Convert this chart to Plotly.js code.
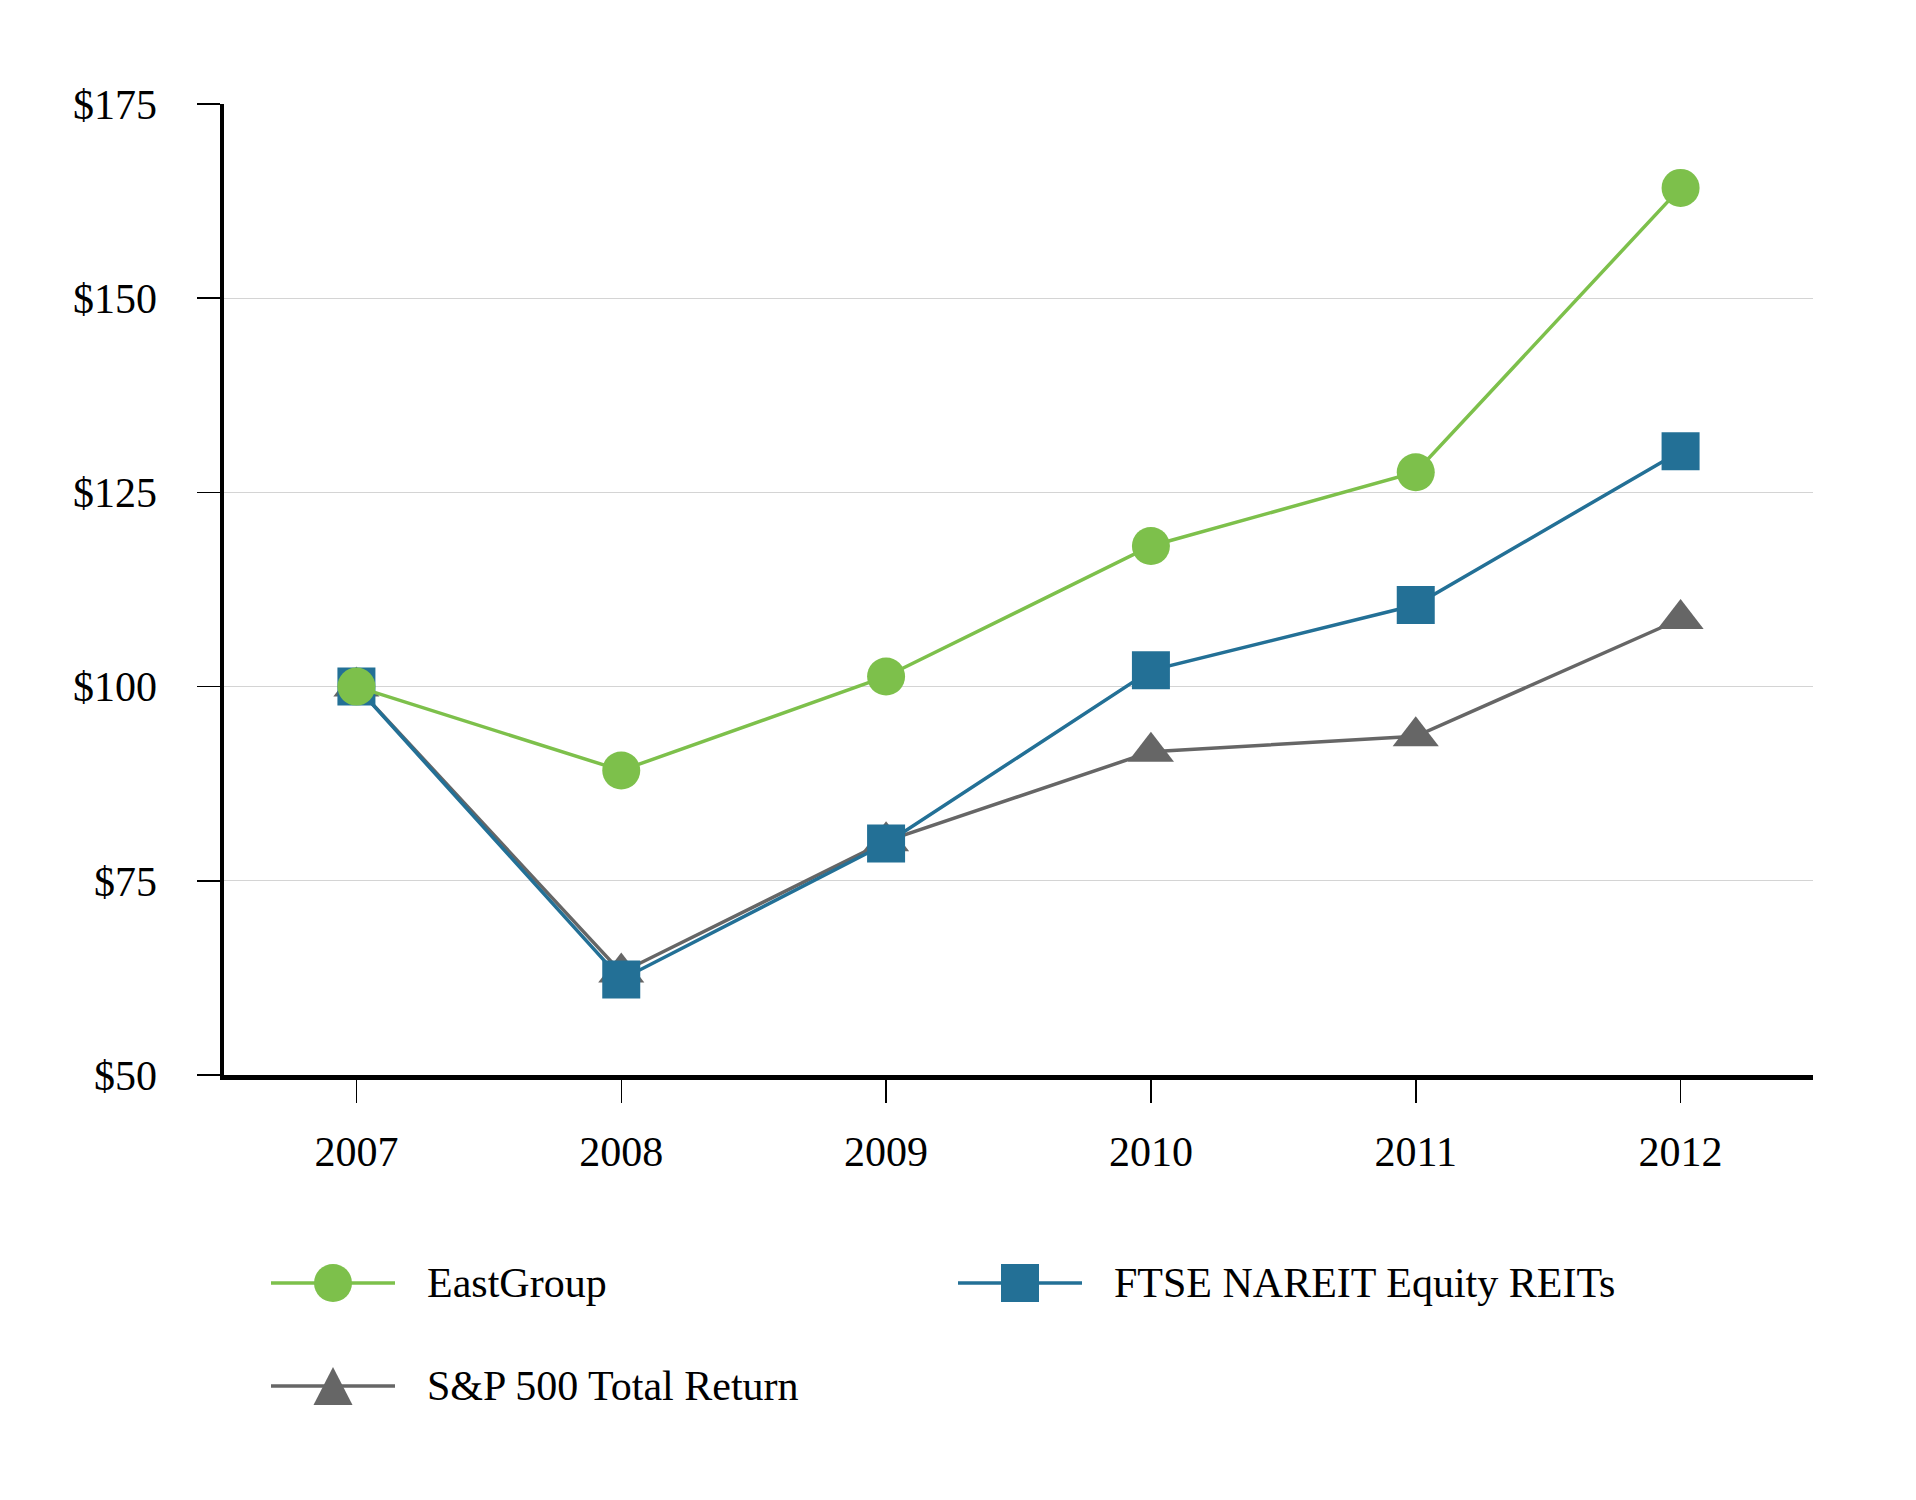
<!DOCTYPE html>
<html>
<head>
<meta charset="utf-8">
<script src="https://cdn.plot.ly/plotly-3.0.1.min.js"></script>
<style>
  body { margin: 0; background: #fff; }
  #chart { width: 1916px; height: 1500px; }
</style>
</head>
<body>
<div id="chart"></div>
<script>
var years = ['2007', '2008', '2009', '2010', '2011', '2012'];
var eastGroup = [100, 89.2, 101.3, 118.1, 127.6, 164.2];
var nareit = [100, 62.3, 79.8, 102.1, 110.5, 130.3];
var sp500 = [100, 63.2, 80.1, 91.6, 93.6, 108.7];
var yTicks = [50, 75, 100, 125, 150, 175];
var yTickText = ['&#36;50', '&#36;75', '&#36;100', '&#36;125', '&#36;150', '&#36;175'];

var seriesNames = ['EastGroup', 'FTSE NAREIT Equity REITs', 'S&P 500 Total Return'];
var seriesColors = ['#7dc04b', '#237096', '#666666'];
var seriesSymbols = ['circle', 'square', 'triangle-up'];

var font = 'Liberation Serif, Times New Roman, serif';

function trace(i, vals, size) {
  return {
    x: years,
    y: vals,
    name: seriesNames[i],
    type: 'scatter',
    mode: 'lines+markers',
    line: { color: seriesColors[i], width: 3.5 },
    marker: { color: seriesColors[i], symbol: seriesSymbols[i], size: size },
    showlegend: false,
    hoverinfo: 'x+y+name'
  };
}

// drawn gray first so blue and green sit on top
var data = [trace(2, sp500, 40), trace(1, nareit, 38), trace(0, eastGroup, 38)];

// hand made legend, two columns like the original
var plotLeft = 224, plotRight = 1813, plotTop = 104, plotBottom = 1075;
function px(x) { return (x - plotLeft) / (plotRight - plotLeft); }
function py(y) { return (plotBottom - y) / (plotBottom - plotTop); }

var legendSpots = [[333, 1283], [1020, 1283], [333, 1386]];
var shapes = [];
var annotations = [];
legendSpots.forEach(function (p, i) {
  var ax = px(p[0]), ay = py(p[1]);
  var base = { xref: 'paper', yref: 'paper', xsizemode: 'pixel', ysizemode: 'pixel', xanchor: ax, yanchor: ay };
  shapes.push(Object.assign({}, base, {
    type: 'line', x0: -62, x1: 62, y0: 0, y1: 0,
    line: { color: seriesColors[i], width: 3.5 }
  }));
  annotations.push({
    xref: 'paper', yref: 'paper', x: ax, y: ay, xshift: 92,
    xanchor: 'left', yanchor: 'middle', showarrow: false,
    text: seriesNames[i],
    font: { family: font, size: 42, color: '#000' }
  });
});
legendSpots.forEach(function (p, i) {
  var base = { xref: 'paper', yref: 'paper', xsizemode: 'pixel', ysizemode: 'pixel', xanchor: px(p[0]), yanchor: py(p[1]) };
  var mk = { fillcolor: seriesColors[i], line: { width: 0 } };
  if (seriesSymbols[i] === 'circle') {
    shapes.push(Object.assign({}, base, mk, { type: 'circle', x0: -19, x1: 19, y0: -19, y1: 19 }));
  } else if (seriesSymbols[i] === 'square') {
    shapes.push(Object.assign({}, base, mk, { type: 'rect', x0: -19, x1: 19, y0: -19, y1: 19 }));
  } else {
    shapes.push(Object.assign({}, base, mk, { type: 'path', path: 'M-19.5,-19L19.5,-19L0,19Z' }));
  }
});

var layout = {
  width: 1916,
  height: 1500,
  margin: { l: plotLeft, r: 1916 - plotRight, t: plotTop, b: 1500 - plotBottom },
  paper_bgcolor: '#fff',
  plot_bgcolor: '#fff',
  font: { family: font, size: 42, color: '#000' },
  showlegend: false,
  xaxis: {
    type: 'category',
    categoryorder: 'array',
    categoryarray: years,
    range: [-0.5, 5.5],
    showgrid: false,
    zeroline: false,
    showline: true,
    linecolor: '#000',
    linewidth: 4.5,
    ticks: 'outside',
    ticklen: 23,
    tickwidth: 1.5,
    tickcolor: '#000',
    ticklabelstandoff: 13,
    tickfont: { family: font, size: 42, color: '#000' },
    fixedrange: true
  },
  yaxis: {
    range: [50, 175],
    tickmode: 'array',
    tickvals: yTicks,
    ticktext: yTickText,
    showgrid: true,
    gridcolor: '#d4d4d4',
    gridwidth: 1,
    zeroline: false,
    showline: true,
    linecolor: '#000',
    linewidth: 4.5,
    ticks: 'outside',
    ticklen: 23,
    tickwidth: 1.5,
    tickcolor: '#000',
    ticklabelstandoff: 31,
    tickfont: { family: font, size: 42, color: '#000' },
    fixedrange: true
  },
  shapes: shapes,
  annotations: annotations
};

Plotly.newPlot(document.getElementById('chart'), data, layout, { displayModeBar: false, staticPlot: true });
</script>
</body>
</html>
